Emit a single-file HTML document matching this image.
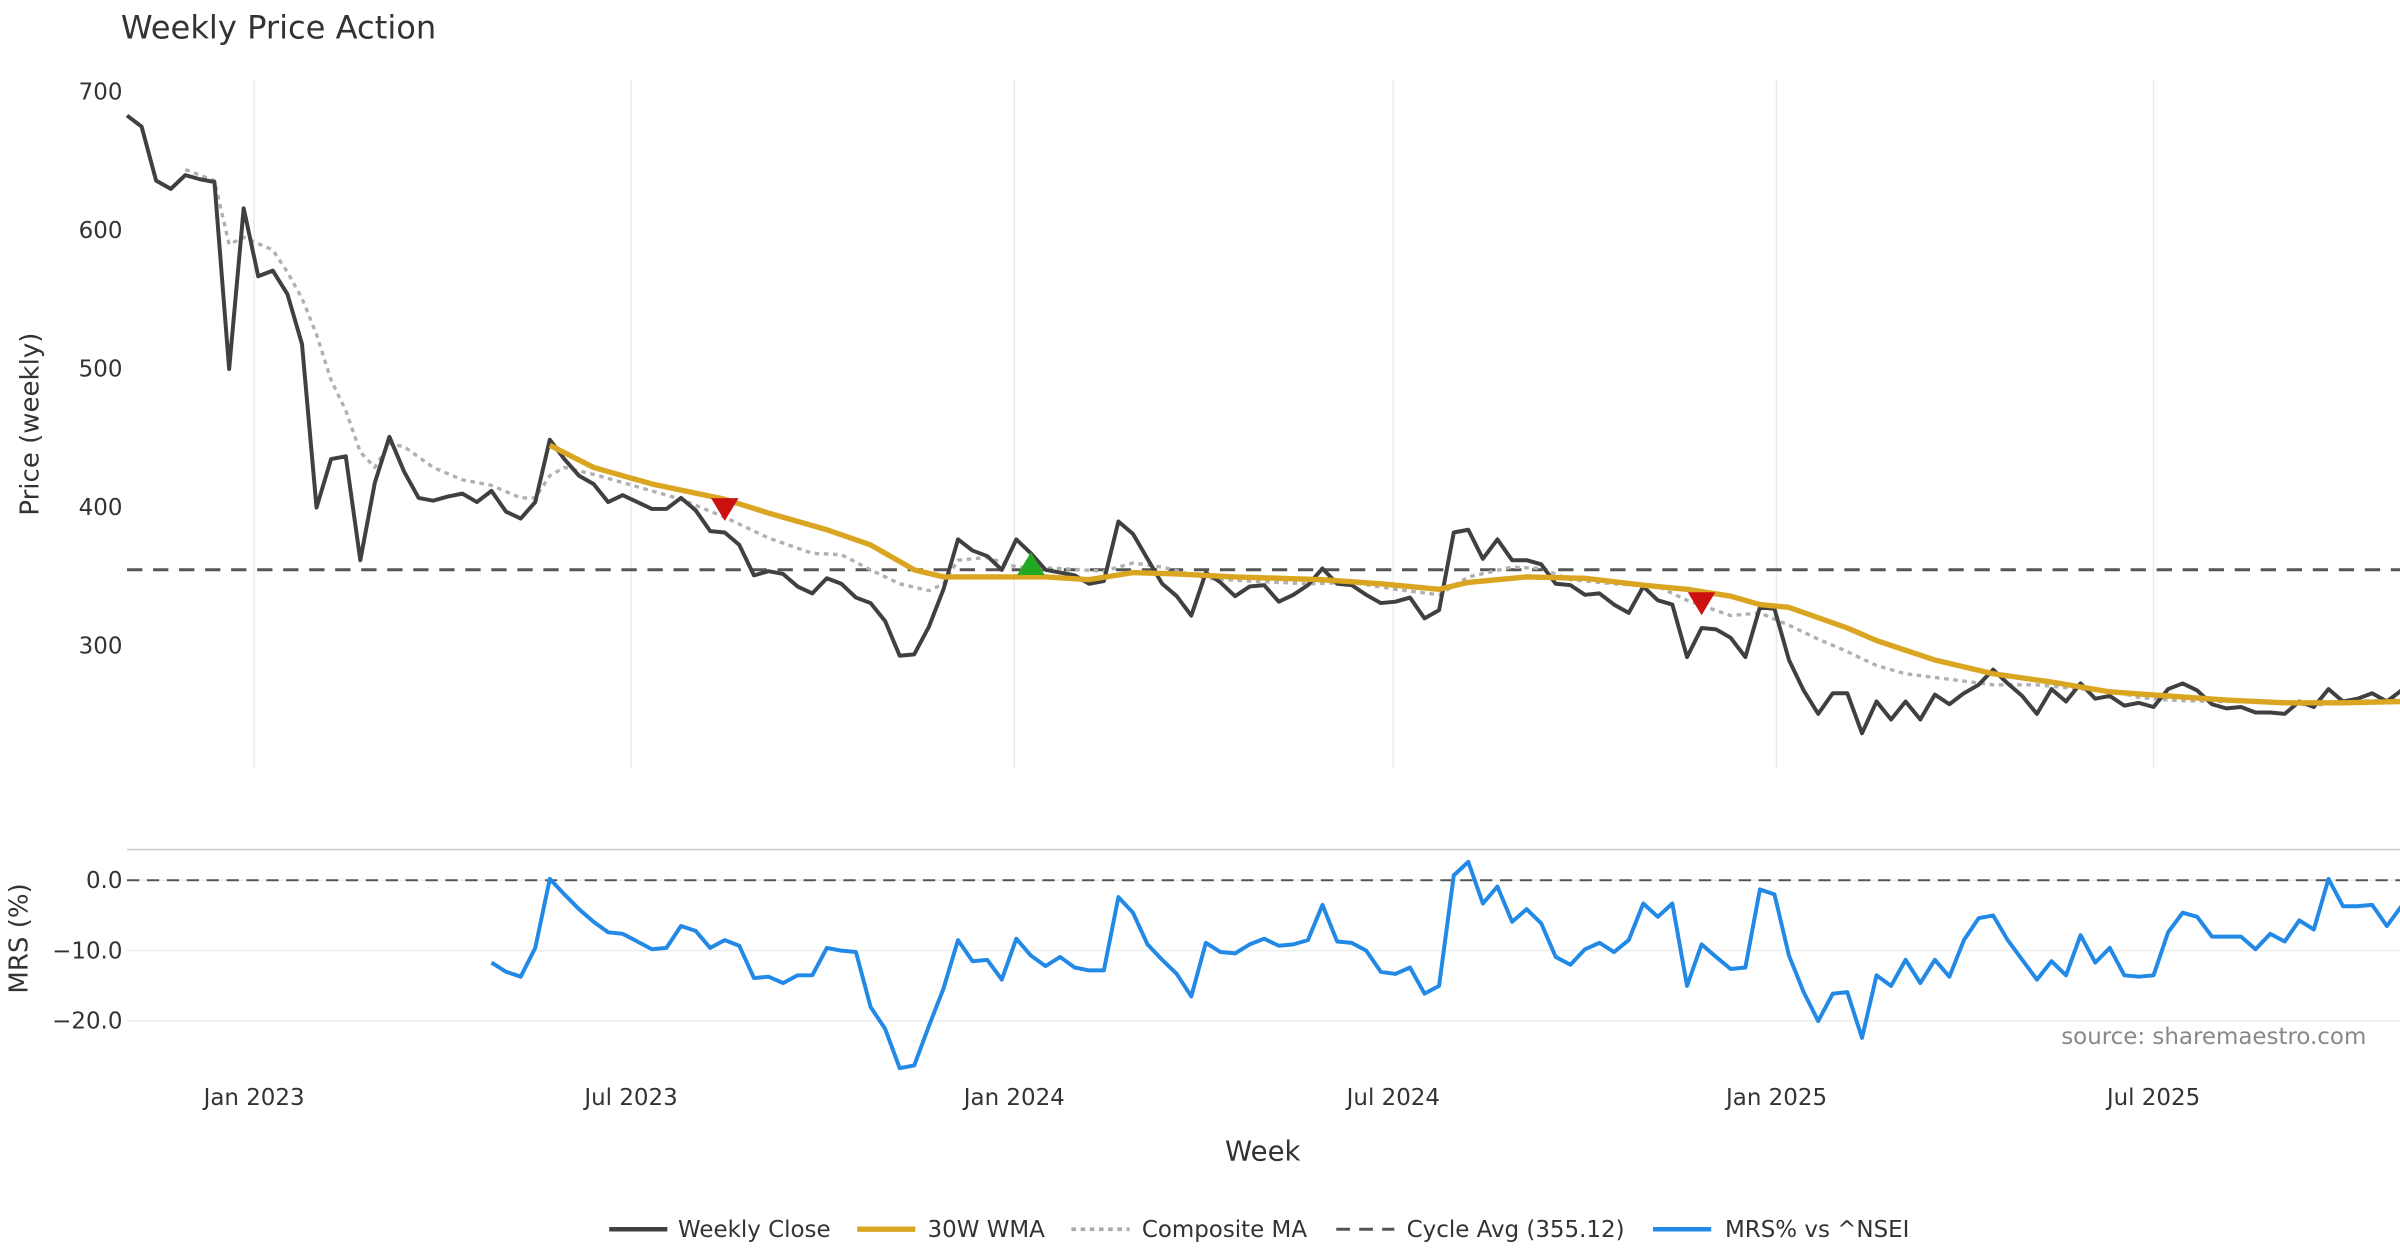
<!DOCTYPE html>
<html><head><meta charset="utf-8"><style>
html,body{margin:0;padding:0;background:#fff;}
svg{display:block;font-family:"DejaVu Sans","Liberation Sans",sans-serif;}
</style></head><body>
<svg id="chart" width="2400" height="1260" viewBox="0 0 1568 823" xmlns="http://www.w3.org/2000/svg">
<rect width="1568" height="823" fill="#fff"/>
<text x="79" y="25" font-size="21" fill="#333">Weekly Price Action</text>
<g id="grid"></g>
<g id="price"></g>
<g id="mrs"></g>
<g id="axes"></g>
<text transform="translate(25,277) rotate(-90)" text-anchor="middle" font-size="17" fill="#333">Price (weekly)</text>
<text transform="translate(18,613) rotate(-90)" text-anchor="middle" font-size="17" fill="#333">MRS (%)</text>
<text x="825" y="758" text-anchor="middle" font-size="18" fill="#333">Week</text>
<text x="1546" y="682" text-anchor="end" font-size="15" fill="#888">source: sharemaestro.com</text>
<g font-size="15" fill="#333">
<g><line x1="398" y1="803" x2="436" y2="803" stroke="#404040" stroke-width="3"/><text x="443" y="808">Weekly Close</text></g>
<g><line x1="560" y1="803" x2="598" y2="803" stroke="#DAA520" stroke-width="3.5"/><text x="606" y="808">30W WMA</text></g>
<g><line x1="700" y1="803" x2="738" y2="803" stroke="#aaa" stroke-width="2.5" stroke-dasharray="3,3"/><text x="746" y="808">Composite MA</text></g>
<g><line x1="873" y1="803" x2="911" y2="803" stroke="#555" stroke-width="2" stroke-dasharray="9,6"/><text x="919" y="808">Cycle Avg (355.12)</text></g>
<g><line x1="1080" y1="803" x2="1118" y2="803" stroke="#2389e6" stroke-width="3"/><text x="1127" y="808">MRS% vs ^NSEI</text></g>
</g>
</svg>
<script>
const closeVals=[683,675,636,630,640,637,635,500,616,567,
571,554,518,400,435,437,362,418,451,426,
407,405,408,410,404,412,397,392,404,449,
435,423,417,404,409,404,399,399,407,398,
383,382,373,351,354,352,343,338,349,345,
335,331,318,293,294,314,341,377,369,365,
355,377,367,355,353,351,345,347,390,381,
363,345,336,322,353,346,336,343,344,332,
337,344,356,345,344,337,331,332,335,320,
326,382,384,363,377,362,362,359,345,344,
337,338,330,324,343,333,330,292,313,312,
306,292,328,327,290,268,251,266,266,237,
260,247,260,247,265,258,266,272,283,273,
264,251,269,260,273,262,264,257,259,256,
269,273,268,258,255,256,252,252,251,260,
256,269,260,262,266,260,268];
const wmaWeeks=[29,32,36,41,44,48,51,54,56,59,63,66,69,72,76,82,86,90,92,96,100,104,107,110,112,114,118,120,124,128,132,136,140,144,148,152,156];
const wmaVals=[445,429,417,406,396,384,373,355,350,350,350,348,353,352,350,348,345,341,346,350,349,344,341,336,330,328,313,304,290,280,274,267,264,261,259,259,260];
const compWeeks=[4,6,7,8,10,11,12,13,14,15,16,17,18,19,21,23,25,27,28,29,30,32,35,38,41,44,47,49,51,53,55,56,57,59,61,64,67,69,71,74,77,81,84,87,90,92,95,97,99,102,105,107,110,112,114,116,118,120,122,125,128,131,134,136,138,140,143,147,150,152,156];
const compVals=[644,636,590,595,586,570,551,525,492,470,440,429,446,444,429,420,416,407,407,423,429,424,415,406,393,378,367,366,355,345,340,345,362,364,357,356,354,360,357,349,347,345,346,341,337,350,357,356,348,345,343,333,322,324,315,305,296,286,280,276,272,272,269,268,263,261,260,260,257,260,261];
const cycleAvg=355.12;
const sellWeeks=[41,108];
const sellVals=[398,330];
const buyWeeks=[62];
const buyVals=[359];
const mrsStart=25;
const mrsVals=[-11.7,-13,-13.7,-9.6,0.2,-2,-4.1,-5.9,-7.4,-7.6,
-8.7,-9.8,-9.6,-6.5,-7.2,-9.6,-8.5,-9.3,-13.9,-13.7,
-14.6,-13.5,-13.5,-9.6,-10,-10.2,-18,-21.1,-26.7,-26.3,
-20.7,-15.4,-8.5,-11.5,-11.3,-14.1,-8.3,-10.7,-12.2,-10.9,
-12.4,-12.8,-12.8,-2.4,-4.6,-9.1,-11.3,-13.3,-16.5,-8.9,
-10.2,-10.4,-9.1,-8.3,-9.3,-9.1,-8.5,-3.5,-8.7,-8.9,
-10,-13,-13.3,-12.4,-16.1,-15,0.7,2.6,-3.3,-0.9,
-5.9,-4.1,-6.1,-10.9,-12,-9.8,-8.9,-10.2,-8.5,-3.3,
-5.2,-3.3,-15,-9.1,-10.9,-12.6,-12.4,-1.3,-2,-10.7,
-15.9,-20,-16.1,-15.9,-22.4,-13.5,-15,-11.3,-14.6,-11.3,
-13.7,-8.5,-5.4,-5,-8.5,-11.3,-14.1,-11.5,-13.5,-7.8,
-11.7,-9.6,-13.5,-13.7,-13.5,-7.4,-4.6,-5.2,-8,-8,
-8,-9.8,-7.6,-8.7,-5.7,-7,0.2,-3.7,-3.7,-3.5,
-6.5,-3.7];
const priceTicks=[700,600,500,400,300];
const mrsTicks=[0,-10,-20];
const mrsTickLabels=["0.0","\u221210.0","\u221220.0"];
const xTickLabels=["Jan 2023","Jul 2023","Jan 2024","Jul 2024","Jan 2025","Jul 2025"];
const xTickDates=["2023-01-01","2023-07-01","2024-01-01","2024-07-01","2025-01-01","2025-07-01"];
const startDate="2022-11-01";

const NS="http://www.w3.org/2000/svg";
const DAY=86400000;
const t0=Date.parse("2023-01-01");
function xDate(ms){return 166+(ms-t0)/DAY*1.3607;}
function xWeek(i){return xDate(Date.parse(startDate)+i*7*DAY);}
function yP(v){return 60+(700-v)*0.905;}
function yM(m){return 575-m*4.6;}
function mk(tag,attrs,parent){const e=document.createElementNS(NS,tag);for(const k in attrs)e.setAttribute(k,attrs[k]);parent.appendChild(e);return e;}
const grid=document.getElementById('grid'),price=document.getElementById('price'),mrs=document.getElementById('mrs'),axes=document.getElementById('axes');

xTickDates.forEach((d,i)=>{
  const x=xDate(Date.parse(d));
  const g=mk('line',{x1:x,x2:x,y1:52,y2:502,stroke:'#ebebeb','stroke-width':1},grid);
  
  
  const t=mk('text',{x:x,y:722,'text-anchor':'middle','font-size':15,fill:'#333'},axes);
  t.textContent=xTickLabels[i];
  
  
});
priceTicks.forEach(v=>{
  const t=mk('text',{x:80,y:yP(v)+5,'text-anchor':'end','font-size':15,fill:'#333'},axes);
  t.textContent=v;
  
  
});
const border=mk('line',{x1:83,x2:1568,y1:555,y2:555,stroke:'#ccc','stroke-width':1},grid);


mrsTicks.forEach((m,i)=>{
  const g=mk('line',{x1:83,x2:1568,y1:yM(m),y2:yM(m),stroke:'#eee','stroke-width':1},grid);
  
  
  const t=mk('text',{x:80,y:yM(m)+5,'text-anchor':'end','font-size':15,fill:'#333'},axes);
  t.textContent=mrsTickLabels[i];
  
  
});
const zl=mk('line',{x1:83,x2:1568,y1:yM(0),y2:yM(0),stroke:'#555','stroke-width':1.3,'stroke-dasharray':'8,5'},mrs);



const ca=mk('line',{x1:83,x2:1568,y1:yP(cycleAvg),y2:yP(cycleAvg),stroke:'#555','stroke-width':2,'stroke-dasharray':'10,7'},price);



function poly(pts,attrs,parent){return mk('polyline',Object.assign({points:pts.map(p=>p[0].toFixed(1)+','+p[1].toFixed(1)).join(' '),fill:'none','stroke-linejoin':'round'},attrs),parent);}
const comp=poly(compWeeks.map((w,i)=>[xWeek(w),yP(compVals[i])]),{stroke:'#b0b0b0','stroke-width':2.2,'stroke-dasharray':'3,3'},price);


const cl=poly(closeVals.map((v,i)=>[xWeek(i),yP(v)]),{stroke:'#404040','stroke-width':2.6},price);


const wm=poly(wmaWeeks.map((w,i)=>[xWeek(w),yP(wmaVals[i])]),{stroke:'#DAA520','stroke-width':3.5},price);



sellWeeks.forEach((w,i)=>{
  const x=xWeek(w),y=yP(sellVals[i]);
  const p=mk('polygon',{points:`${x-9},${y-8} ${x+9},${y-8} ${x},${y+7}`,fill:'#cc1111'},price);
  
  
});
buyWeeks.forEach((w,i)=>{
  const x=xWeek(w),y=yP(buyVals[i]);
  const p=mk('polygon',{points:`${x-9},${y+7} ${x+9},${y+7} ${x},${y-8}`,fill:'#22aa22'},price);
  
  
});
const ml=poly(mrsVals.map((m,i)=>[xWeek(mrsStart+i),yM(m)]),{stroke:'#2389e6','stroke-width':2.6},mrs);


</script>
</body></html>
